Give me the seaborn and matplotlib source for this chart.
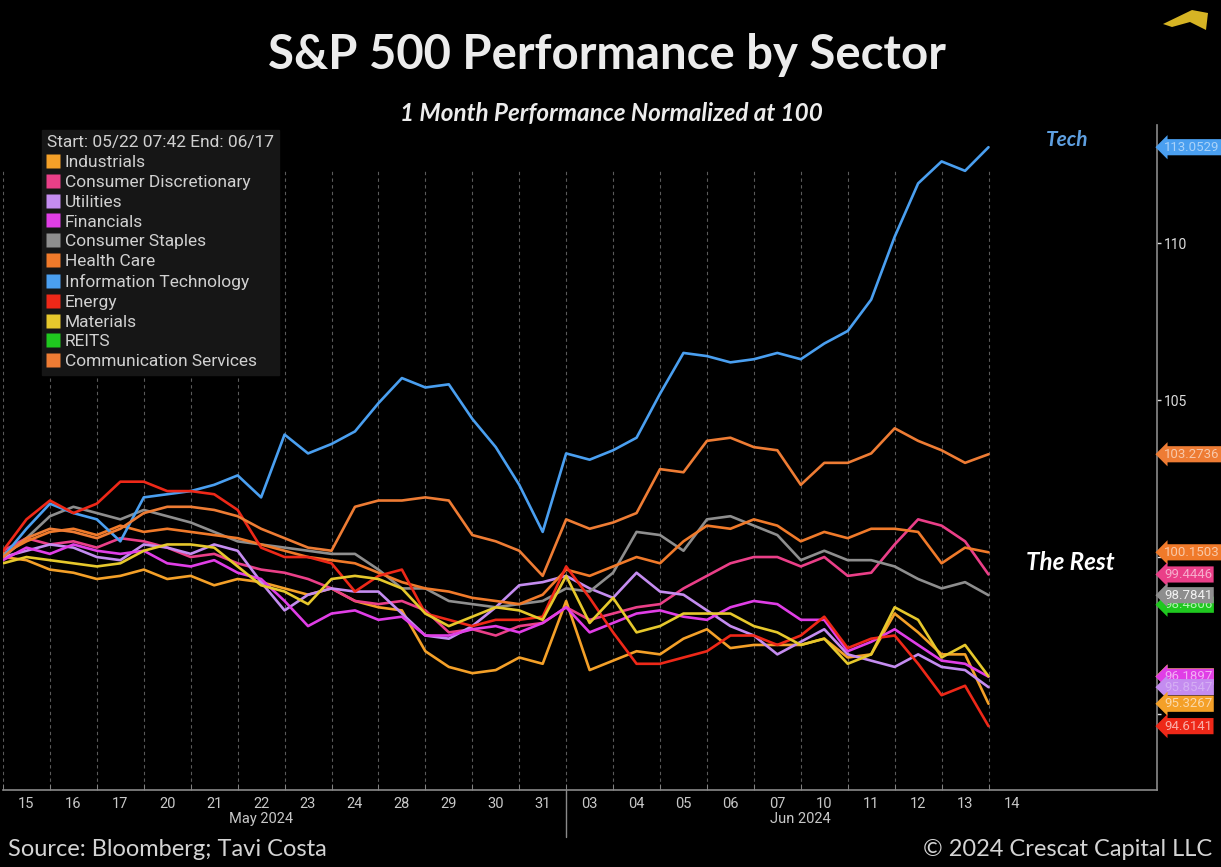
import numpy as np
import pandas as pd
import seaborn as sns
import matplotlib.pyplot as plt
from matplotlib import font_manager
from matplotlib.lines import Line2D
from matplotlib.patches import Polygon

# trading sessions on the x axis (index 0 = May 15), sampled every half session
day_labels = ['15', '16', '17', '20', '21', '22', '23', '24', '28', '29', '30',
              '31', '03', '04', '05', '06', '07', '10', '11', '12', '13', '14']
month_labels = ['May 2024', 'Jun 2024']
month_pos = [5.0, 16.5]
month_break = 11.5
steps = np.arange(-0.5, 21.0, 0.5)

industrials = [100.0, 99.9, 99.6, 99.5, 99.3, 99.4, 99.6, 99.3, 99.4, 99.1,
               99.3, 99.2, 99.0, 98.8, 99.0, 98.6, 98.4, 98.3, 97.0, 96.5,
               96.3, 96.4, 96.8, 96.6, 98.6, 96.4, 96.7, 97.0, 96.9, 97.4,
               97.7, 97.1, 97.2, 97.2, 97.2, 97.4, 96.8, 96.9, 98.2, 97.6,
               96.9, 96.9, 95.3267]
cons_disc = [100.2, 100.6, 100.4, 100.5, 100.3, 100.6, 100.5, 100.3, 100.0, 100.1,
             99.8, 99.6, 99.5, 99.3, 99.0, 98.6, 98.5, 98.6, 98.3, 97.6,
             97.7, 97.5, 97.8, 97.9, 98.4, 98.0, 98.2, 98.4, 98.5, 99.0,
             99.4, 99.8, 100.0, 100.0, 99.7, 100.0, 99.4, 99.5, 100.4, 101.2,
             101.0, 100.5, 99.4446]
utilities = [100.0, 100.2, 100.4, 100.3, 100.0, 99.9, 100.4, 100.3, 100.1, 100.4,
             100.2, 99.2, 98.3, 98.8, 99.0, 98.9, 98.9, 98.2, 97.5, 97.4,
             97.8, 98.4, 99.1, 99.2, 99.4, 99.0, 98.7, 99.5, 98.9, 98.8,
             98.3, 97.8, 97.5, 96.9, 97.3, 97.7, 96.9, 96.7, 96.5, 96.9,
             96.5, 96.4, 95.8547]
financials = [99.9, 100.3, 100.1, 100.4, 100.2, 100.1, 100.2, 99.8, 99.7, 99.9,
              99.5, 99.3, 98.6, 97.8, 98.2, 98.3, 98.0, 98.1, 97.5, 97.5,
              97.7, 97.8, 97.6, 97.9, 98.4, 97.6, 97.9, 98.2, 98.3, 98.1,
              98.0, 98.4, 98.6, 98.5, 98.0, 98.0, 97.0, 97.3, 97.7, 97.2,
              96.7, 96.6, 96.1897]
cons_staples = [100.0, 100.6, 101.3, 101.6, 101.4, 101.2, 101.5, 101.3, 101.1, 100.8,
                100.5, 100.4, 100.3, 100.2, 100.1, 100.1, 99.6, 99.0, 99.0, 98.6,
                98.5, 98.4, 98.5, 98.6, 99.0, 98.9, 99.5, 100.8, 100.7, 100.2,
                101.2, 101.3, 101.0, 100.7, 99.9, 100.2, 99.9, 99.9, 99.7, 99.3,
                99.0, 99.2, 98.7841]
health_care = [100.1, 100.5, 100.8, 100.9, 100.7, 101.0, 100.8, 100.9, 100.8, 100.7,
               100.6, 100.4, 100.2, 100.0, 99.9, 99.8, 99.5, 99.2, 99.0, 98.9,
               98.7, 98.6, 98.5, 98.8, 99.6, 99.4, 99.7, 100.0, 99.8, 100.5,
               101.0, 100.9, 101.2, 101.0, 100.5, 100.8, 100.6, 100.9, 100.9, 100.8,
               99.8, 100.3, 100.1503]
info_tech = [100.0, 100.9, 101.7, 101.4, 101.2, 100.5, 101.9, 102.0, 102.1, 102.3,
             102.6, 101.9, 103.9, 103.3, 103.6, 104.0, 104.9, 105.7, 105.4, 105.5,
             104.4, 103.5, 102.3, 100.8, 103.3, 103.1, 103.4, 103.8, 105.2, 106.5,
             106.4, 106.2, 106.3, 106.5, 106.3, 106.8, 107.2, 108.2, 110.2, 111.9,
             112.6, 112.3, 113.0529]
energy = [100.2, 101.2, 101.8, 101.4, 101.7, 102.4, 102.4, 102.1, 102.1, 102.0,
          101.5, 100.3, 100.0, 100.0, 99.8, 98.9, 99.4, 99.6, 98.2, 98.0,
          97.8, 98.0, 98.0, 98.1, 99.7, 98.7, 97.6, 96.6, 96.6, 96.8,
          97.0, 97.5, 97.5, 97.2, 97.5, 98.1, 97.1, 97.4, 97.5, 96.6,
          95.6, 95.9, 94.6141]
materials = [99.8, 100.0, 99.9, 99.8, 99.7, 99.8, 100.2, 100.4, 100.4, 100.3,
             99.7, 99.1, 98.9, 98.5, 99.3, 99.4, 99.3, 99.0, 98.2, 97.8,
             98.1, 98.4, 98.3, 98.0, 99.4, 97.9, 98.7, 97.6, 97.8, 98.2,
             98.2, 98.2, 97.8, 97.6, 97.2, 97.4, 96.6, 96.9, 98.4, 98.0,
             96.8, 97.2, 96.2]
comm_services = [100.0, 100.6, 100.9, 100.8, 100.6, 100.9, 101.4, 101.6, 101.6, 101.5,
                 101.3, 100.9, 100.6, 100.3, 100.2, 101.6, 101.8, 101.8, 101.9, 101.8,
                 100.7, 100.5, 100.2, 99.4, 101.2, 100.9, 101.1, 101.4, 102.8, 102.7,
                 103.7, 103.8, 103.5, 103.4, 102.3, 103.0, 103.0, 103.3, 104.1, 103.7,
                 103.4, 103.0, 103.2736]
reits_last = 98.4806  # only the end tag shows for REITS

sectors = ['Industrials', 'Consumer Discretionary', 'Utilities', 'Financials',
           'Consumer Staples', 'Health Care', 'Information Technology', 'Energy',
           'Materials', 'REITS', 'Communication Services']
colors = ['#f4a028', '#ea3f88', '#c48cf0', '#e03ee6', '#8e8e8e', '#f07a2a',
          '#4a9ff0', '#ee2818', '#e6c82c', '#1fc81f', '#ee7c34']
palette = dict(zip(sectors, colors))

series = {'Industrials': industrials, 'Consumer Discretionary': cons_disc,
          'Utilities': utilities, 'Financials': financials,
          'Consumer Staples': cons_staples, 'Health Care': health_care,
          'Information Technology': info_tech, 'Energy': energy,
          'Materials': materials, 'Communication Services': comm_services}

df = pd.concat([pd.DataFrame({'t': steps, 'value': v, 'sector': k})
                for k, v in series.items()], ignore_index=True)
last = df.groupby('sector')['value'].last().to_dict()
last['REITS'] = reits_last

# fonts
sns.set_style('dark', {'axes.facecolor': 'black', 'figure.facecolor': 'black'})
names = {f.name for f in font_manager.fontManager.ttflist}
narrow = 'Liberation Sans Narrow' if 'Liberation Sans Narrow' in names else 'Roboto'
plt.rcParams['font.family'] = [narrow, 'DejaVu Sans']
title_font = ['Lato', 'DejaVu Sans']

W, H = 1221, 867
fig = plt.figure(figsize=(W / 100, H / 100), dpi=100)
fig.patch.set_facecolor('black')
ax = fig.add_axes([3 / W, 1 - 790 / H, 1154 / W, 665 / H])
ax.set_facecolor('black')

# dashed session separators
bounds = np.arange(-0.5, 21.0, 1.0)
ax.vlines(bounds, 92.0, 112.3, colors='#5a5a5a', linestyles=(0, (3, 3)), lw=0.8, zorder=0)

sns.lineplot(data=df, x='t', y='value', hue='sector',
             hue_order=[s for s in sectors if s in series], palette=palette,
             lw=1.9, legend=False, estimator=None, sort=False, ax=ax)

ax.set_xlim(-0.47, 24.09)
ax.set_ylim(92.58, 113.76)
ax.set_xlabel('')
ax.set_ylabel('')

# bottom axis
ax.set_xticks(range(len(day_labels)))
ax.set_xticklabels(day_labels)
ax.set_xticks(bounds, minor=True)
ax.tick_params(axis='x', which='major', length=0, pad=5, labelsize=10.5, labelcolor='#c8c8c8')
ax.tick_params(axis='x', which='minor', direction='in', length=4, color='#8a8a8a', bottom=True)
for i, lab in enumerate(month_labels):
    ax.text(month_pos[i], -0.043, lab, transform=ax.get_xaxis_transform(),
            ha='center', va='center', fontsize=10.5, color='#c8c8c8')
ax.plot([month_break, month_break], [0, -0.07], transform=ax.get_xaxis_transform(),
        color='#8a8a8a', lw=1, clip_on=False)

# right axis: the 95 and 100 labels sit under the value tags, so only 105/110 are written
ax.yaxis.tick_right()
ax.set_yticks([95, 100, 105, 110])
ax.set_yticklabels(['', '', '105', '110'])
ax.tick_params(axis='y', which='major', direction='out', length=3, width=1,
               color='#dddddd', pad=2, labelsize=10, labelcolor='#dddddd', right=True)
for side in ['top', 'left']:
    ax.spines[side].set_visible(False)
for side in ['bottom', 'right']:
    ax.spines[side].set_visible(True)
    ax.spines[side].set_color('#8a8a8a')
    ax.spines[side].set_linewidth(1.2)
ax.grid(False)

# last value tags on the right axis
tag_order = ['REITS', 'Materials', 'Financials', 'Information Technology',
             'Communication Services', 'Health Care', 'Consumer Discretionary',
             'Consumer Staples', 'Utilities', 'Industrials', 'Energy']
for s in tag_order:
    c = palette[s]
    txt = sns.utils.set_hls_values(c, l=0.82) if s != 'Consumer Staples' else '#f2f2f2'
    ax.annotate(f'{last[s]:.4f}', xy=(1.0, last[s]), xycoords=ax.get_yaxis_transform(),
                xytext=(5, 0), textcoords='offset points', ha='left', va='center',
                fontsize=9.5, color=txt, annotation_clip=False, zorder=5,
                bbox=dict(boxstyle='larrow,pad=0.12', fc=c, ec='none'))

# legend
handles = [Line2D([], [], marker='s', ls='none', markersize=9.5,
                  markerfacecolor=c, markeredgecolor='none') for c in colors]
leg = ax.legend(handles, sectors, title='Start: 05/22 07:42 End: 06/17',
                loc='upper left', bbox_to_anchor=(42 / W, 1 - 130 / H),
                bbox_transform=fig.transFigure, borderaxespad=0, borderpad=0.3,
                labelspacing=0.27, handlelength=0.7, handletextpad=0.3,
                fontsize=12.5, title_fontsize=12.5, frameon=True, fancybox=False,
                facecolor='#161616', edgecolor='#161616', framealpha=1,
                alignment='left', labelcolor='#d0d0d0')
leg.get_title().set_color('#d0d0d0')

# titles and notes
fig.text(607 / W, 1 - 55 / H, 'S&P 500 Performance by Sector', ha='center', va='center',
         fontsize=34, fontweight='bold', color='#ececec', family=title_font)
fig.text(611 / W, 1 - 114 / H, '1 Month Performance Normalized at 100', ha='center',
         va='center', fontsize=17.5, fontweight='bold', fontstyle='italic',
         color='#ececec', family=title_font)
fig.text(1067 / W, 1 - 140 / H, 'Tech', ha='center', va='center', fontsize=15,
         fontweight='bold', fontstyle='italic', color='#5e9fe0', family=title_font)
fig.text(1070 / W, 1 - 563 / H, 'The Rest', ha='center', va='center', fontsize=17.5,
         fontweight='bold', fontstyle='italic', color='white', family=title_font)
fig.text(8 / W, 1 - 850 / H, 'Source: Bloomberg; Tavi Costa', ha='left', va='center',
         fontsize=17, color='#d4d4d4', family=title_font)
fig.text(1212 / W, 1 - 850 / H, '\u00a9 2024 Crescat Capital LLC', ha='right', va='center',
         fontsize=17, color='#d4d4d4', family=title_font)

# small logo mark, top right
logo = [(1163, 24), (1192, 10), (1208, 13), (1206, 30), (1190, 22), (1172, 27)]
fig.patches.append(Polygon([(x / W, 1 - y / H) for x, y in logo], closed=True,
                           transform=fig.transFigure, fc='#d6b424', ec='none'))

fig.savefig('out.png', dpi=100, facecolor='black')
